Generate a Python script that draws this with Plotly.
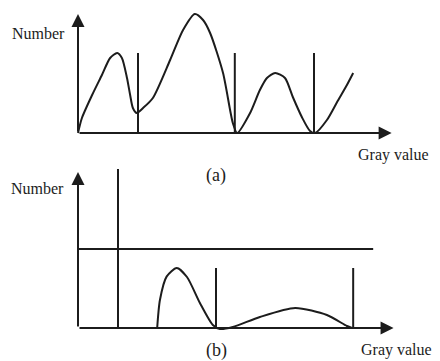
import plotly.graph_objects as go

# ---------------- data ----------------
# Panel (a): histogram curve (gray value vs number, arbitrary units)
a_gray = [0, 0.1, 0.36, 0.61, 0.82, 1.0, 1.12, 1.25, 1.33, 1.4, 1.5, 1.66, 1.91, 2.35, 2.68,
          2.98, 3.19, 3.37, 3.7, 3.95, 4.06, 4.39, 4.64, 4.82, 5.03, 5.28, 5.48, 5.71,
          5.92, 6.05, 6.35, 6.61, 6.86, 7.02]
a_number = [0, 0.75, 1.9, 2.9, 3.75, 4.0, 3.75, 2.75, 1.9, 1.25, 1.0, 1.25, 1.75, 3.65, 5.15,
            5.95, 5.65, 5.0, 3.0, 0.5, 0.0, 1.0, 2.15, 2.75, 3.0, 2.75, 1.8, 0.8,
            0.1, 0.0, 0.65, 1.55, 2.4, 3.0]
a_thresh_x = [1.53, 4.0, 6.02]
a_thresh_h = [4.0, 4.0, 4.0]
a_axis_x_end = 8.0
a_axis_y_end = 5.95

# Panel (b)
b_gray = [2.02, 2.09, 2.26, 2.52, 2.78, 3.11, 3.44, 3.62, 3.95, 4.64, 5.54, 6.35, 6.86, 6.99]
b_number = [0.0, 1.4, 2.57, 3.0, 2.55, 1.25, 0.15, -0.05, 0.05, 0.55, 1.0, 0.65, 0.1, 0.0]
b_thresh_x = [1.02, 3.52, 7.02]
b_thresh_h = [7.95, 3.0, 3.0]
b_level_y = 3.95
b_level_x_end = 7.53
b_axis_x_end = 8.05
b_axis_y_end = 7.8

# ---------------- figure ----------------
# page body has an 8px margin, so the figure is laid out 8px up/left of reference pixels
OFF = 8
W, H = 440 - OFF, 361 - OFF
PXX = 39.2   # px per gray unit
PXY = 20.0   # px per number unit
ORIGIN_X = 78 - OFF
X_RANGE = [-ORIGIN_X / PXX, (W - ORIGIN_X) / PXX]

INK = "#1c1c1c"
FONT = "Liberation Serif"

fig = go.Figure()


def vlines(xs, hs):
    xx, yy = [], []
    for x, h in zip(xs, hs):
        xx += [x, x, None]
        yy += [0, h, None]
    return xx, yy


# panel (a)
fig.add_trace(go.Scatter(x=a_gray, y=a_number, mode="lines",
                         line=dict(color=INK, width=2, shape="spline", smoothing=0.7),
                         xaxis="x", yaxis="y", hoverinfo="skip"))
vx, vy = vlines(a_thresh_x, a_thresh_h)
fig.add_trace(go.Scatter(x=vx, y=vy, mode="lines", line=dict(color=INK, width=2),
                         xaxis="x", yaxis="y", hoverinfo="skip"))

# panel (b)
fig.add_trace(go.Scatter(x=b_gray, y=b_number, mode="lines",
                         line=dict(color=INK, width=2, shape="spline", smoothing=0.7),
                         xaxis="x2", yaxis="y2", hoverinfo="skip"))
vx, vy = vlines(b_thresh_x, b_thresh_h)
fig.add_trace(go.Scatter(x=vx, y=vy, mode="lines", line=dict(color=INK, width=2),
                         xaxis="x2", yaxis="y2", hoverinfo="skip"))
fig.add_trace(go.Scatter(x=[0, b_level_x_end], y=[b_level_y, b_level_y], mode="lines",
                         line=dict(color=INK, width=2),
                         xaxis="x2", yaxis="y2", hoverinfo="skip"))

# domains (figure pixels): panel (a) 0..142, origin 125; panel (b) 152..353, origin 320
a_top, a_bot, a_org = 0, 142, 133 - OFF
b_top, b_bot, b_org = 152, H, 328 - OFF
hidden = dict(visible=False, showgrid=False, zeroline=False, fixedrange=True)
fig.update_layout(
    width=W, height=H,
    margin=dict(l=0, r=0, t=0, b=0),
    paper_bgcolor="white", plot_bgcolor="rgba(0,0,0,0)",
    showlegend=False,
    xaxis=dict(domain=[0, 1], range=X_RANGE, anchor="y", **hidden),
    yaxis=dict(domain=[1 - a_bot / H, 1 - a_top / H],
               range=[(a_org - a_bot) / PXY, (a_org - a_top) / PXY], anchor="x", **hidden),
    xaxis2=dict(domain=[0, 1], range=X_RANGE, anchor="y2", **hidden),
    yaxis2=dict(domain=[1 - b_bot / H, 1 - b_top / H],
                range=[(b_org - b_bot) / PXY, (b_org - b_top) / PXY], anchor="x2", **hidden),
)

ann = []


def arrow(xr, yr, x, y):
    return dict(x=x, y=y, ax=0, ay=0, xref=xr, yref=yr, axref=xr, ayref=yr,
                showarrow=True, arrowhead=2, arrowsize=1.3, arrowwidth=2,
                arrowcolor=INK, text="")


ann.append(arrow("x", "y", a_axis_x_end, 0))
ann.append(arrow("x", "y", 0, a_axis_y_end))
ann.append(arrow("x2", "y2", b_axis_x_end, 0))
ann.append(arrow("x2", "y2", 0, b_axis_y_end))


def label(px, py, text, size, xanchor="center"):
    # px, py: position in reference-image pixels
    return dict(x=(px - OFF) / W, y=1 - (py - OFF) / H, xref="paper", yref="paper",
                text=text, showarrow=False, xanchor=xanchor, yanchor="middle",
                font=dict(family=FONT, size=size, color=INK))


ann.append(label(67, 34, "Number", 16, "right"))
ann.append(label(393, 155, "Gray value", 16))
ann.append(label(216, 175, "(a)", 18))
ann.append(label(66, 188, "Number", 16, "right"))
ann.append(label(396, 350, "Gray value", 16))
ann.append(label(216, 350, "(b)", 18))

fig.update_layout(annotations=ann)
fig.write_html("out.html")
